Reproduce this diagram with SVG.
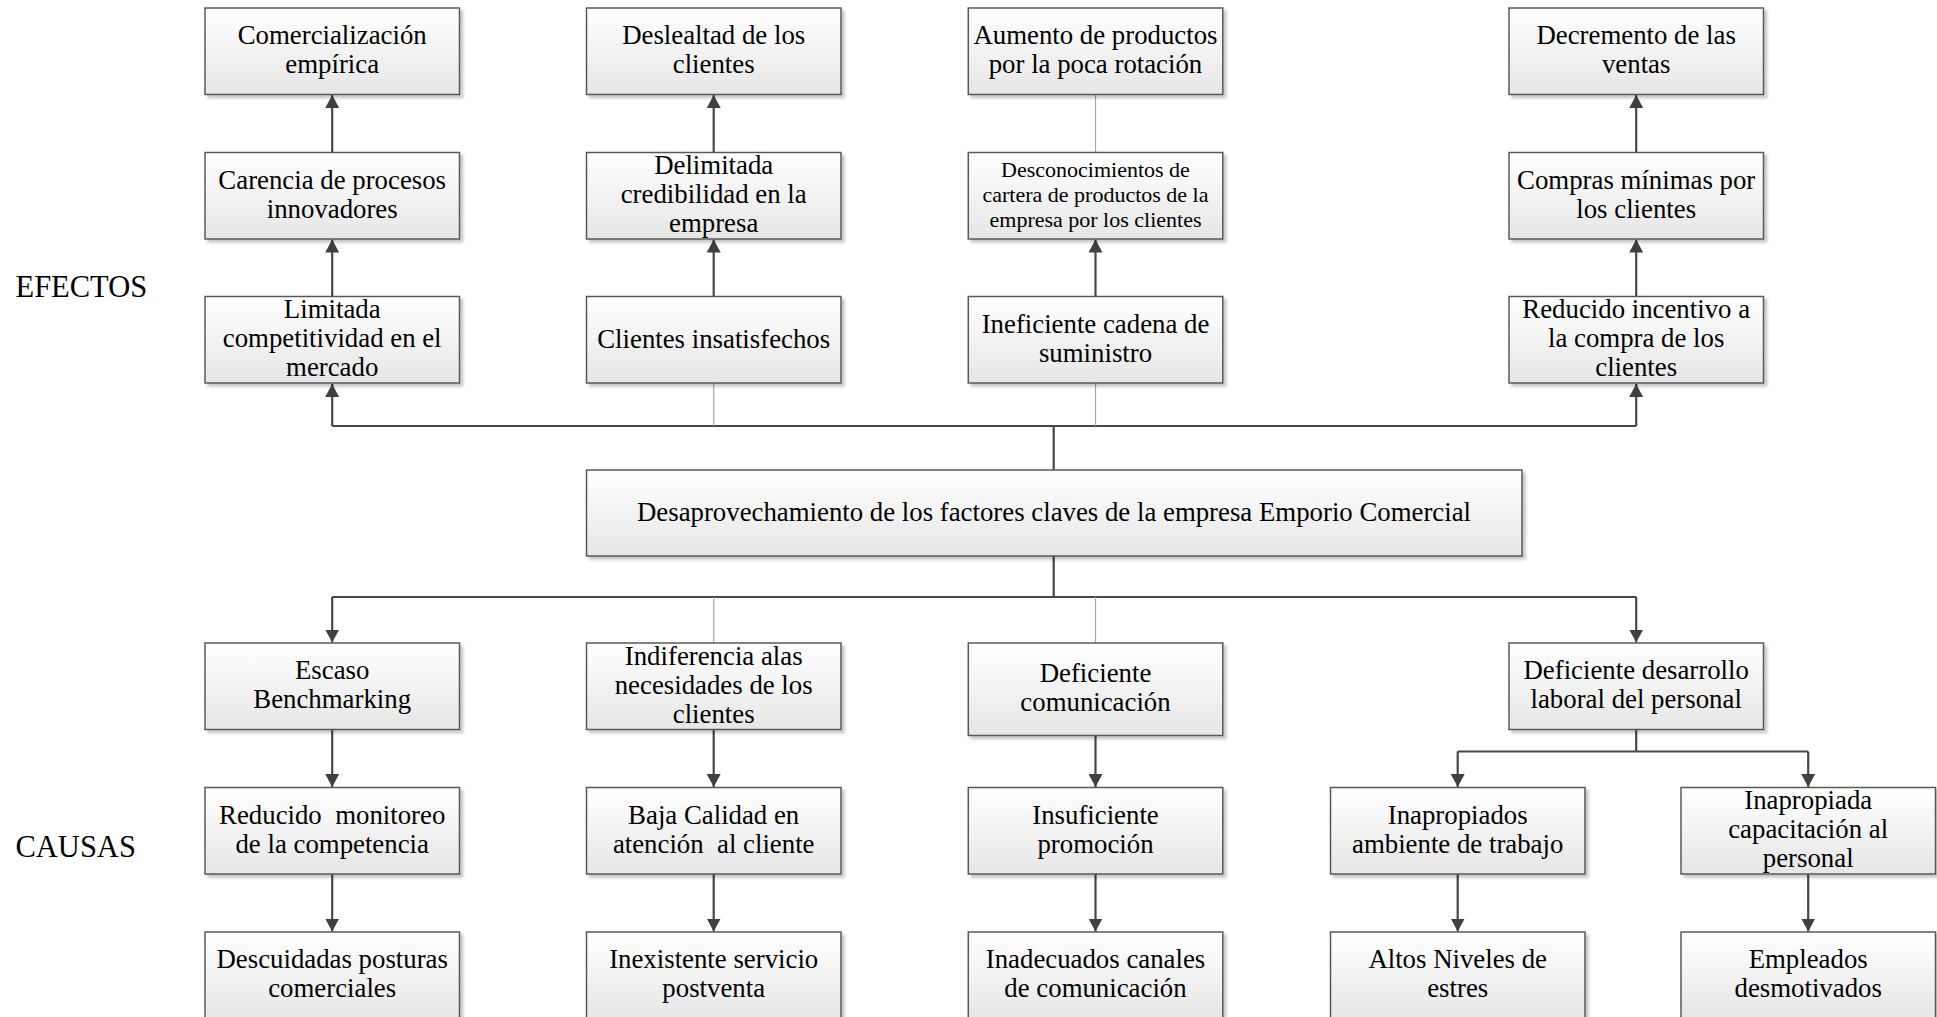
<svg xmlns="http://www.w3.org/2000/svg" width="1937" height="1017" viewBox="0 0 1937 1017">
  <defs>
    <linearGradient id="boxFill" x1="0" y1="0" x2="0" y2="1">
      <stop offset="0" stop-color="#ffffff"/>
      <stop offset="1" stop-color="#e6e6e6"/>
    </linearGradient>
    <filter id="shadow" x="-5%" y="-10%" width="115%" height="130%">
      <feDropShadow dx="3" dy="3" stdDeviation="1.5" flood-color="#000" flood-opacity="0.22"/>
    </filter>
    <marker id="arrow" viewBox="0 0 13 14" refX="13" refY="7" markerWidth="13" markerHeight="14" markerUnits="userSpaceOnUse" orient="auto">
      <path d="M0,0 L13,7 L0,14 z" fill="#404040"/>
    </marker>
  </defs>
  <style>
    .box { fill: url(#boxFill); stroke: #595959; stroke-width: 1.5; filter: url(#shadow); }
    .t { font-family: "Liberation Serif", "Times New Roman", serif; font-size: 26.8px; fill: #000; text-anchor: middle; white-space: pre; }
    .ts { font-family: "Liberation Serif", "Times New Roman", serif; font-size: 22px; fill: #000; text-anchor: middle; }
    .lbl { font-family: "Liberation Serif", "Times New Roman", serif; font-size: 30.5px; fill: #000; }
    .ln { fill: none; stroke: #474747; stroke-width: 2.2; }
    .ar { fill: none; stroke: #474747; stroke-width: 2.2; marker-end: url(#arrow); }
    .thin { fill: none; stroke: #a6a6a6; stroke-width: 1.2; }
  </style>

  <rect width="1937" height="1017" fill="#ffffff"/>

  <!-- section labels -->
  <text class="lbl" x="15.5" y="297">EFECTOS</text>
  <text class="lbl" x="15.5" y="857">CAUSAS</text>

  <!-- connectors -->
  <g id="connectors">
    <!-- effects trunk -->
    <path class="ln" d="M1053.7,470 V426 M332.2,426 H1636.2"/>
    <path class="ar" d="M332.2,426 V384"/>
    <path class="ar" d="M1636.2,426 V384"/>
    <path class="thin" d="M713.7,383 V426 M1095.5,383 V426"/>
    <!-- effects columns -->
    <path class="ar" d="M332.2,296.5 V239.5"/>
    <path class="ar" d="M332.2,152.5 V95"/>
    <path class="ar" d="M713.7,296.5 V239.5"/>
    <path class="ar" d="M713.7,152.5 V95"/>
    <path class="ar" d="M1095.5,296.5 V239.5"/>
    <path class="thin" d="M1095.5,152.5 V94"/>
    <path class="ar" d="M1636.2,296.5 V239.5"/>
    <path class="ar" d="M1636.2,152.5 V95"/>
    <!-- causes trunk -->
    <path class="ln" d="M1053.7,556 V597 M332.2,597 H1636.2"/>
    <path class="ar" d="M332.2,597 V642.5"/>
    <path class="ar" d="M1636.2,597 V642.5"/>
    <path class="thin" d="M713.7,597 V643 M1095.5,597 V643"/>
    <!-- causes columns -->
    <path class="ar" d="M332.2,729.5 V787"/>
    <path class="ar" d="M332.2,874 V931.5"/>
    <path class="ar" d="M713.7,729.5 V787"/>
    <path class="ar" d="M713.7,874 V931.5"/>
    <path class="ar" d="M1095.5,735.5 V787"/>
    <path class="ar" d="M1095.5,874 V931.5"/>
    <!-- personnel branch -->
    <path class="ln" d="M1636.2,729.5 V751.5 M1457.7,751.5 H1808.2"/>
    <path class="ar" d="M1457.7,751.5 V787"/>
    <path class="ar" d="M1808.2,751.5 V787"/>
    <path class="ar" d="M1457.7,874 V931.5"/>
    <path class="ar" d="M1808.2,874 V931.5"/>
  </g>

  <!-- central problem -->
  <g id="problema">
    <rect class="box" x="586.5" y="470" width="935.5" height="86"/>
    <text class="t" x="1054" y="521">Desaprovechamiento de los factores claves de la empresa Emporio Comercial</text>
  </g>

  <!-- effects, row 1 -->
  <g id="e-comercializacion">
    <rect class="box" x="205" y="8" width="254.5" height="86.5"/>
    <text class="t"><tspan x="332.2" y="44">Comercialización</tspan><tspan x="332.2" y="73">empírica</tspan></text>
  </g>
  <g id="e-deslealtad">
    <rect class="box" x="586.5" y="8" width="254.5" height="86.5"/>
    <text class="t"><tspan x="713.7" y="44">Deslealtad de los</tspan><tspan x="713.7" y="73">clientes</tspan></text>
  </g>
  <g id="e-aumento">
    <rect class="box" x="968.3" y="8" width="254.5" height="86.5"/>
    <text class="t"><tspan x="1095.5" y="44">Aumento de productos</tspan><tspan x="1095.5" y="73">por la poca rotación</tspan></text>
  </g>
  <g id="e-decremento">
    <rect class="box" x="1509" y="8" width="254.5" height="86.5"/>
    <text class="t"><tspan x="1636.2" y="44">Decremento de las</tspan><tspan x="1636.2" y="73">ventas</tspan></text>
  </g>

  <!-- effects, row 2 -->
  <g id="e-carencia">
    <rect class="box" x="205" y="152.5" width="254.5" height="86.5"/>
    <text class="t"><tspan x="332.2" y="188.5">Carencia de procesos</tspan><tspan x="332.2" y="217.5">innovadores</tspan></text>
  </g>
  <g id="e-credibilidad">
    <rect class="box" x="586.5" y="152.5" width="254.5" height="86.5"/>
    <text class="t"><tspan x="713.7" y="174">Delimitada</tspan><tspan x="713.7" y="203">credibilidad en la</tspan><tspan x="713.7" y="232">empresa</tspan></text>
  </g>
  <g id="e-desconocimiento">
    <rect class="box" x="968.3" y="152.5" width="254.5" height="86.5"/>
    <text class="ts"><tspan x="1095.5" y="177.3">Desconocimientos de</tspan><tspan x="1095.5" y="202">cartera de productos de la</tspan><tspan x="1095.5" y="226.7">empresa por los clientes</tspan></text>
  </g>
  <g id="e-compras">
    <rect class="box" x="1509" y="152.5" width="254.5" height="86.5"/>
    <text class="t"><tspan x="1636.2" y="188.5">Compras mínimas por</tspan><tspan x="1636.2" y="217.5">los clientes</tspan></text>
  </g>

  <!-- effects, row 3 -->
  <g id="e-competitividad">
    <rect class="box" x="205" y="296.5" width="254.5" height="86.5"/>
    <text class="t"><tspan x="332.2" y="318">Limitada</tspan><tspan x="332.2" y="347">competitividad en el</tspan><tspan x="332.2" y="376">mercado</tspan></text>
  </g>
  <g id="e-insatisfechos">
    <rect class="box" x="586.5" y="296.5" width="254.5" height="86.5"/>
    <text class="t"><tspan x="713.7" y="347.5">Clientes insatisfechos</tspan></text>
  </g>
  <g id="e-suministro">
    <rect class="box" x="968.3" y="296.5" width="254.5" height="86.5"/>
    <text class="t"><tspan x="1095.5" y="333">Ineficiente cadena de</tspan><tspan x="1095.5" y="362">suministro</tspan></text>
  </g>
  <g id="e-incentivo">
    <rect class="box" x="1509" y="296.5" width="254.5" height="86.5"/>
    <text class="t"><tspan x="1636.2" y="318">Reducido incentivo a</tspan><tspan x="1636.2" y="347">la compra de los</tspan><tspan x="1636.2" y="376">clientes</tspan></text>
  </g>

  <!-- causes, row 1 -->
  <g id="c-benchmarking">
    <rect class="box" x="205" y="643" width="254.5" height="86.5"/>
    <text class="t"><tspan x="332.2" y="679">Escaso</tspan><tspan x="332.2" y="708">Benchmarking</tspan></text>
  </g>
  <g id="c-indiferencia">
    <rect class="box" x="586.5" y="643" width="254.5" height="86.5"/>
    <text class="t"><tspan x="713.7" y="664.5">Indiferencia alas</tspan><tspan x="713.7" y="693.5">necesidades de los</tspan><tspan x="713.7" y="722.5">clientes</tspan></text>
  </g>
  <g id="c-comunicacion">
    <rect class="box" x="968.3" y="643" width="254.5" height="92.5"/>
    <text class="t"><tspan x="1095.5" y="682">Deficiente</tspan><tspan x="1095.5" y="711">comunicación</tspan></text>
  </g>
  <g id="c-desarrollo">
    <rect class="box" x="1509" y="643" width="254.5" height="86.5"/>
    <text class="t"><tspan x="1636.2" y="679">Deficiente desarrollo</tspan><tspan x="1636.2" y="708">laboral del personal</tspan></text>
  </g>

  <!-- causes, row 2 -->
  <g id="c-monitoreo">
    <rect class="box" x="205" y="787.5" width="254.5" height="86.5"/>
    <text class="t"><tspan x="332.2" y="823.5">Reducido  monitoreo</tspan><tspan x="332.2" y="852.5">de la competencia</tspan></text>
  </g>
  <g id="c-calidad">
    <rect class="box" x="586.5" y="787.5" width="254.5" height="86.5"/>
    <text class="t"><tspan x="713.7" y="823.5">Baja Calidad en</tspan><tspan x="713.7" y="852.5">atención  al cliente</tspan></text>
  </g>
  <g id="c-promocion">
    <rect class="box" x="968.3" y="787.5" width="254.5" height="86.5"/>
    <text class="t"><tspan x="1095.5" y="823.5">Insuficiente</tspan><tspan x="1095.5" y="852.5">promoción</tspan></text>
  </g>
  <g id="c-ambiente">
    <rect class="box" x="1330.5" y="787.5" width="254.5" height="86.5"/>
    <text class="t"><tspan x="1457.7" y="823.5">Inapropiados</tspan><tspan x="1457.7" y="852.5">ambiente de trabajo</tspan></text>
  </g>
  <g id="c-capacitacion">
    <rect class="box" x="1681" y="787.5" width="254.5" height="86.5"/>
    <text class="t"><tspan x="1808.2" y="809">Inapropiada</tspan><tspan x="1808.2" y="838">capacitación al</tspan><tspan x="1808.2" y="867">personal</tspan></text>
  </g>

  <!-- causes, row 3 -->
  <g id="c-posturas">
    <rect class="box" x="205" y="932" width="254.5" height="86.5"/>
    <text class="t"><tspan x="332.2" y="968">Descuidadas posturas</tspan><tspan x="332.2" y="997">comerciales</tspan></text>
  </g>
  <g id="c-postventa">
    <rect class="box" x="586.5" y="932" width="254.5" height="86.5"/>
    <text class="t"><tspan x="713.7" y="968">Inexistente servicio</tspan><tspan x="713.7" y="997">postventa</tspan></text>
  </g>
  <g id="c-canales">
    <rect class="box" x="968.3" y="932" width="254.5" height="86.5"/>
    <text class="t"><tspan x="1095.5" y="968">Inadecuados canales</tspan><tspan x="1095.5" y="997">de comunicación</tspan></text>
  </g>
  <g id="c-estres">
    <rect class="box" x="1330.5" y="932" width="254.5" height="86.5"/>
    <text class="t"><tspan x="1457.7" y="968">Altos Niveles de</tspan><tspan x="1457.7" y="997">estres</tspan></text>
  </g>
  <g id="c-desmotivados">
    <rect class="box" x="1681" y="932" width="254.5" height="86.5"/>
    <text class="t"><tspan x="1808.2" y="968">Empleados</tspan><tspan x="1808.2" y="997">desmotivados</tspan></text>
  </g>
</svg>
